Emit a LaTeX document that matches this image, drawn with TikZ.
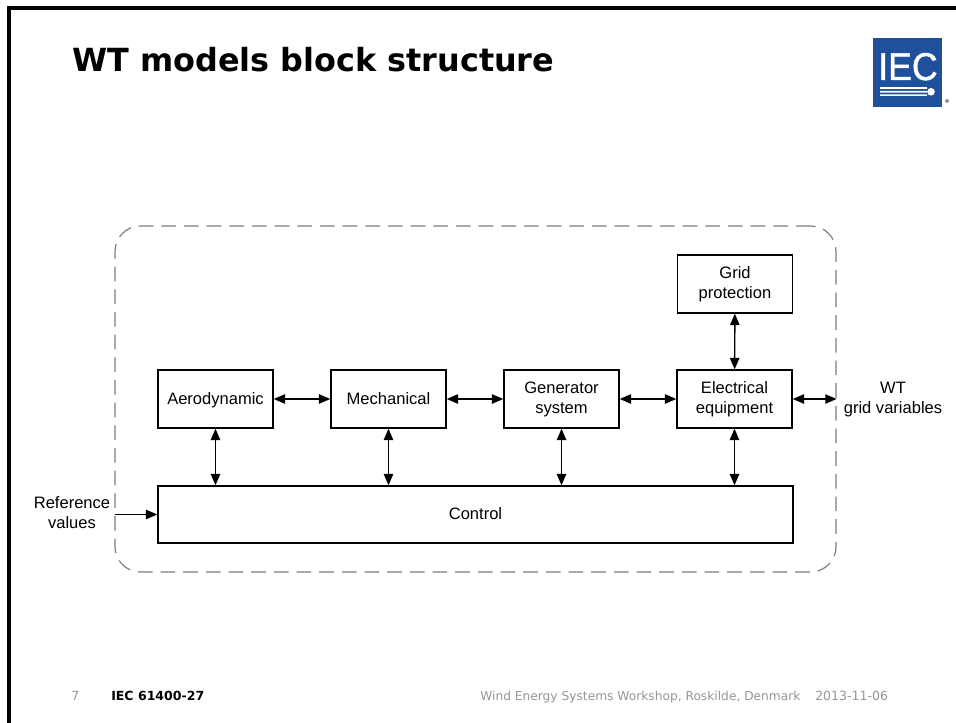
\documentclass[tikz,border=0pt]{standalone}
\usepackage{fontspec}
\setmainfont{Liberation Sans}
\newfontfamily\verdanafont{DejaVu Sans}
\newfontfamily\logofont[FakeBold=1.2]{Liberation Sans}
\usetikzlibrary{arrows.meta}
\definecolor{iecblue}{RGB}{31,80,155}
\definecolor{footgray}{RGB}{150,150,150}
\definecolor{dashgray}{RGB}{125,125,125}

\begin{document}
\begin{tikzpicture}[x=0.75pt,y=-0.75pt,>={Triangle[length=8.5pt,width=7pt]},node distance=129.75pt,
  block node/.style={rectangle,draw,line width=1.05pt,minimum width=86.25pt,minimum height=43.5pt,align=center,font=\fontsize{12.4}{15}\selectfont,inner sep=0pt,execute at begin node=\rule{0pt}{10.4pt},execute at end node=\rule[-2.6pt]{0pt}{2.6pt}},
  link/.style={<->,line width=1.05pt},
  free text/.style={align=center,font=\fontsize{12.4}{15}\selectfont,inner sep=0pt,execute at begin node=\rule{0pt}{10.4pt},execute at end node=\rule[-2.6pt]{0pt}{2.6pt}},
  foot text/.style={anchor=base west,inner sep=0pt,font=\verdanafont\fontsize{9.4}{11}\selectfont}]

  \useasboundingbox (0,0) rectangle (956,723);
  \draw[line width=2.3pt] (9,723) -- (9,8) -- (956,8);

  \node[anchor=base west,inner sep=0pt,font=\verdanafont\bfseries\fontsize{23.9}{28}\selectfont] (title) at (72,72) {WT models block structure};

  % logo
  \fill[iecblue] (873,38) rectangle (942,107);
  \node[text=white,anchor=base,inner sep=0pt,font=\logofont\fontsize{29}{30}\selectfont,xscale=0.92] (logo) at (908,80) {IEC};
  \fill[white] (880,87.2) rectangle (927,89) (880,90.8) rectangle (927,92.6) (880,94.4) rectangle (927,96);
  \fill[white] (931,91.8) circle (3.8);
  \fill[footgray] (947,101) circle (2);

  \node[draw=dashgray,dash pattern=on 11pt off 6pt,line width=0.9pt,rounded corners=19pt,minimum width=540.75pt,minimum height=259.5pt,inner sep=0pt] (wtbox) at (475.5,399) {};

  \node[block node] (aero) at (215.5,399) {Aerodynamic};
  \node[block node] (mech) [right of=aero] {Mechanical};
  \node[block node] (gen) [right of=mech] {Generator\\system};
  \node[block node] (elec) [right of=gen] {Electrical\\equipment};
  \node[block node] (prot) at (735,284) {Grid\\protection};
  \node[block node,minimum width=476.25pt,minimum height=42.75pt] (ctrl) at (475.5,514.5) {Control};

  \node[free text] (refval) at (72,514) {Reference\\values};
  \node[free text] (wtvar) at (893,400) {WT\\grid variables};
  \coordinate (refin) at (115,514.5);

  \path[link]
    (aero) edge (mech)
    (mech) edge (gen)
    (gen) edge (elec)
    (elec) edge (prot)
    (elec) edge (wtbox.east)
    (aero) edge (aero |- ctrl.north)
    (mech) edge (mech |- ctrl.north)
    (gen) edge (gen |- ctrl.north)
    (elec) edge (elec |- ctrl.north);
  \draw[->,line width=1.05pt] (refin) -- (ctrl.west);

  \node[foot text,text=footgray] (pageno) at (71,700) {7};
  \node[foot text,font=\verdanafont\bfseries\fontsize{9.4}{11}\selectfont] (iecno) at (111,700) {IEC 61400-27};
  \node[foot text,text=footgray,font=\verdanafont\fontsize{9.17}{11}\selectfont] (event) at (480,700) {Wind Energy Systems Workshop, Roskilde, Denmark};
  \node[foot text,text=footgray] (date) at (815,700) {2013-11-06};
\end{tikzpicture}
\end{document}
